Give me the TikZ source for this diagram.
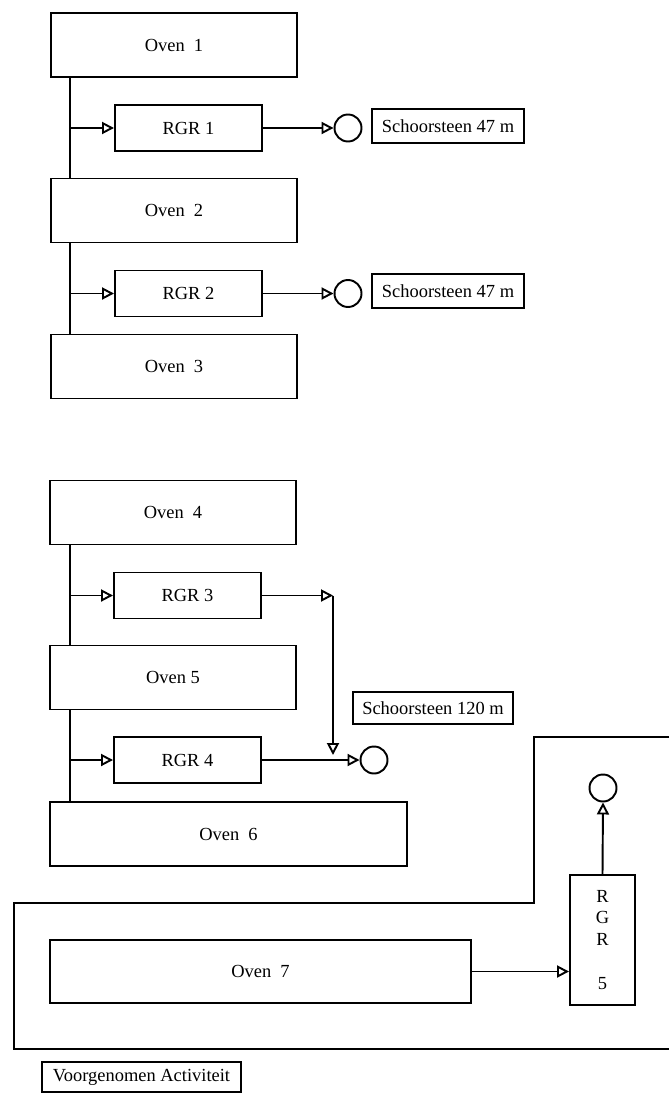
\documentclass[tikz,border=0pt]{standalone}
\usepackage{fontspec}
\setmainfont{Liberation Serif}
\usetikzlibrary{arrows.meta,positioning}

\begin{document}
\begin{tikzpicture}[
    x=0.2mm, y=-0.2mm,
    every node/.style={font=\fontsize{10.5pt}{12.5pt}\selectfont},
    oven/.style={draw, line width=1.1pt, minimum width=49.2mm, minimum height=12.8mm, inner sep=0pt},
    rgr/.style={draw, line width=1.1pt, minimum width=29.4mm, minimum height=9.2mm, inner sep=0pt},
    stack/.style={circle, draw, line width=1.1pt, minimum size=5.4mm, inner sep=0pt},
    label_box/.style={draw, line width=1.1pt, minimum height=6.8mm, inner sep=0pt},
    flow/.style={line width=1.1pt, -{Triangle[open, length=2.4mm, width=2.4mm]}},
    pipe/.style={line width=1.1pt}
]
    \useasboundingbox (0,0) rectangle (669,1094);

    % Ovens 1-3 with RGR 1 and RGR 2
    \node[oven] (oven1) at (174,45) {Oven~~1};
    \node[oven] (oven2) at (174,210.5) {Oven~~2};
    \node[oven] (oven3) at (174,366.5) {Oven~~3};
    \node[rgr] (rgr1) at (188.5,128) {RGR 1};
    \node[rgr] (rgr2) at (188.5,293.5) {RGR 2};
    \node[stack] (stack1) at (348,128) {};
    \node[stack] (stack2) at (348,293.5) {};
    \node[label_box, minimum width=30.4mm] (chimney1) at (448,126) {Schoorsteen 47 m};
    \node[label_box, minimum width=30.4mm] (chimney2) at (448,291) {Schoorsteen 47 m};

    \coordinate (bus1) at (70,0);
    \draw[pipe] (oven1.south -| bus1) -- (oven2.north -| bus1);
    \draw[pipe] (oven2.south -| bus1) -- (oven3.north -| bus1);
    \draw[flow] (rgr1.west -| bus1) -- (rgr1.west);
    \draw[flow] (rgr2.west -| bus1) -- (rgr2.west);
    \draw[flow] (rgr1.east) -- (stack1.west);
    \draw[flow] (rgr2.east) -- (stack2.west);

    % Ovens 4-6 with RGR 3 and RGR 4
    \node[oven] (oven4) at (173,512.5) {Oven~~4};
    \node[oven] (oven5) at (173,677.5) {Oven 5};
    \node[oven, minimum width=71.4mm] (oven6) at (228.5,834) {Oven~~6};
    \node[rgr] (rgr3) at (187.5,595.5) {RGR 3};
    \node[rgr] (rgr4) at (187.5,760) {RGR 4};
    \node[stack] (stack3) at (374,760) {};
    \node[label_box, minimum width=32mm, minimum height=6.4mm] (chimney3) at (433,708) {Schoorsteen 120 m};
    \coordinate (bend3) at (333,595.5);
    \coordinate (join3) at (333,755);

    \coordinate (bus2) at (70,0);
    \draw[pipe] (oven4.south -| bus2) -- (oven5.north -| bus2);
    \draw[pipe] (oven5.south -| bus2) -- (oven6.north -| bus2);
    \draw[flow] (rgr3.west -| bus2) -- (rgr3.west);
    \draw[flow] (rgr4.west -| bus2) -- (rgr4.west);
    \draw[flow] (rgr3.east) -- (bend3);
    \draw[flow] (bend3) -- (join3);
    \draw[flow] (rgr4.east) -- (stack3.west);

    % Oven 7 with RGR 5
    \node[oven, minimum width=84.2mm, minimum height=12.6mm] (oven7) at (260.5,971.5) {Oven~~7};
    \node[rgr, minimum width=13mm, minimum height=26mm, align=center] (rgr5) at (602.5,940) {R\\G\\R\\[12.5pt]5};
    \node[stack] (stack4) at (603,788) {};
    \draw[flow] (oven7.east) -- (oven7.east -| rgr5.west);
    \draw[flow] (rgr5.north) -- (stack4.south);

    % Boundary of the planned activity
    \draw[pipe] (669,737) -- (534,737) -- (534,903) -- (14,903) -- (14,1049) -- (669,1049);
    \node[label_box, minimum width=39.8mm, minimum height=6mm] (plan) at (141.5,1077) {Voorgenomen Activiteit};
\end{tikzpicture}
\end{document}
